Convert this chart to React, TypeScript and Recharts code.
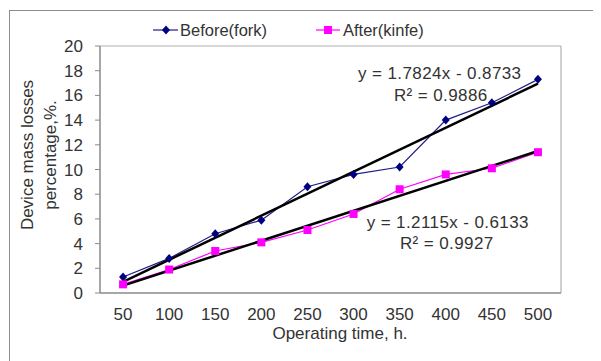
import {
  ComposedChart,
  Line,
  XAxis,
  YAxis,
  ReferenceLine,
  ReferenceDot,
} from 'recharts'

// operating time, h.
const categories = [50, 100, 150, 200, 250, 300, 350, 400, 450, 500]
const beforeFork = [1.3, 2.8, 4.8, 5.9, 8.6, 9.6, 10.2, 14.0, 15.4, 17.3]
const afterKnife = [0.7, 1.9, 3.4, 4.1, 5.1, 6.4, 8.4, 9.6, 10.1, 11.4]

// linear trend line ends (first / last category)
const trendBefore = [0.91, 16.95]
const trendAfter = [0.6, 11.5]

const yTicks = [0, 2, 4, 6, 8, 10, 12, 14, 16, 18, 20]
const boundaryTicks = [0, 1, 2, 3, 4, 5, 6, 7, 8, 9, 10]

const chartData = categories.map((c, i) => ({
  time: c,
  before: beforeFork[i],
  after: afterKnife[i],
}))

const FONT = 'Liberation Sans, Arial, sans-serif'
const TEXT = '#333333'
const AXIS = '#8a8a8a'
const NAVY = '#1c1c8a'
const MAGENTA = '#ff00ff'

const Diamond = (props: { cx?: number; cy?: number }) => {
  const { cx, cy } = props
  if (cx == null || cy == null) return null
  return <path d={`M${cx},${cy - 4.5}L${cx + 4},${cy}L${cx},${cy + 4.5}L${cx - 4},${cy}Z`} fill="#000080" />
}

const Square = (props: { cx?: number; cy?: number }) => {
  const { cx, cy } = props
  if (cx == null || cy == null) return null
  return <rect x={cx - 4} y={cy - 4} width={8} height={8} fill={MAGENTA} />
}

const eqStyle = { fill: TEXT, fontSize: 17, fontFamily: FONT, letterSpacing: 0.4 }

export default function App() {
  return (
    <div style={{ position: 'relative', width: 593, height: 353, overflow: 'hidden' }}>
      <div
        style={{
          position: 'absolute',
          left: 1,
          top: 2,
          width: 640,
          height: 400,
          border: '1px solid #8c8c8c',
        }}
      />
      <svg
        width={593}
        height={40}
        style={{ position: 'absolute', left: 0, top: 0 }}
        fontFamily={FONT}
        fontSize={16.5}
      >
        <line x1={145} x2={170} y1={22} y2={22} stroke={NAVY} strokeWidth={1.2} />
        <Diamond cx={158} cy={22} />
        <text x={172} y={28} fill={TEXT}>Before(fork)</text>
        <line x1={308} x2={332} y1={22} y2={22} stroke={MAGENTA} strokeWidth={1.2} />
        <Square cx={320} cy={22} />
        <text x={335} y={28} fill={TEXT}>After(kinfe)</text>
      </svg>
      <div style={{ position: 'absolute', left: 0, top: 0 }}>
        <ComposedChart
          width={593}
          height={345}
          data={chartData}
          margin={{ top: 38, right: 39, left: 62, bottom: 10 }}
        >
          <XAxis
            xAxisId="bounds"
            type="number"
            domain={[0, 10]}
            ticks={boundaryTicks}
            interval={0}
            height={0}
            axisLine={false}
            tickLine={{ stroke: AXIS }}
            tickSize={5}
            tickFormatter={() => ''}
          />
          <XAxis
            dataKey="time"
            type="category"
            scale="band"
            interval={0}
            height={50}
            axisLine={{ stroke: AXIS, strokeWidth: 1.5 }}
            tickLine={false}
            tickSize={0}
            tickMargin={15}
            tick={{ fill: TEXT, fontSize: 17, fontFamily: FONT }}
            label={{
              content: () => (
                <text x={332} y={331} textAnchor="middle" fill={TEXT} fontSize={17} fontFamily={FONT}>
                  Operating time, h.
                </text>
              ),
            }}
          />
          <YAxis
            domain={[0, 20]}
            ticks={yTicks}
            interval={0}
            width={30}
            axisLine={{ stroke: AXIS, strokeWidth: 1.5 }}
            tickLine={{ stroke: AXIS }}
            tickSize={5}
            tickMargin={12}
            tick={{ fill: TEXT, fontSize: 17, fontFamily: FONT }}
            label={{
              content: () => (
                <g fill={TEXT} fontSize={17} fontFamily={FONT}>
                  <text transform="translate(25,147) rotate(-90)" textAnchor="middle">
                    Device mass losses
                  </text>
                  <text transform="translate(48,147) rotate(-90)" textAnchor="middle">
                    percentage,%.
                  </text>
                </g>
              ),
            }}
          />
          <YAxis
            yAxisId="frame"
            orientation="right"
            domain={[0, 20]}
            width={1}
            tick={false}
            tickLine={false}
            axisLine={{ stroke: '#a0a0a0' }}
          />
          <ReferenceLine y={20} stroke="#b0b0b0" />

          <Line
            dataKey="before"
            stroke={NAVY}
            strokeWidth={1.2}
            dot={<Diamond />}
            activeDot={false}
            isAnimationActive={false}
          />
          <Line
            dataKey="after"
            stroke={MAGENTA}
            strokeWidth={1.2}
            dot={<Square />}
            activeDot={false}
            isAnimationActive={false}
          />

          <ReferenceLine
            segment={[
              { x: categories[0], y: trendBefore[0] },
              { x: categories[categories.length - 1], y: trendBefore[1] },
            ]}
            stroke="#000"
            strokeWidth={2.5}
          />
          <ReferenceLine
            segment={[
              { x: categories[0], y: trendAfter[0] },
              { x: categories[categories.length - 1], y: trendAfter[1] },
            ]}
            stroke="#000"
            strokeWidth={2.5}
          />

          <ReferenceDot x={400} y={17.81} r={1} fill="none" stroke="none"
            label={{ value: 'y = 1.7824x - 0.8733', position: 'center', dx: -6, ...eqStyle }} />
          <ReferenceDot x={400} y={16.03} r={1} fill="none" stroke="none"
            label={{ value: 'R² = 0.9886', position: 'center', dx: -5, ...eqStyle }} />
          <ReferenceDot x={400} y={5.75} r={1} fill="none" stroke="none"
            label={{ value: 'y = 1.2115x - 0.6133', position: 'center', dx: 2, ...eqStyle }} />
          <ReferenceDot x={400} y={4.05} r={1} fill="none" stroke="none"
            label={{ value: 'R² = 0.9927', position: 'center', dx: 1, ...eqStyle }} />
        </ComposedChart>
      </div>
    </div>
  )
}
